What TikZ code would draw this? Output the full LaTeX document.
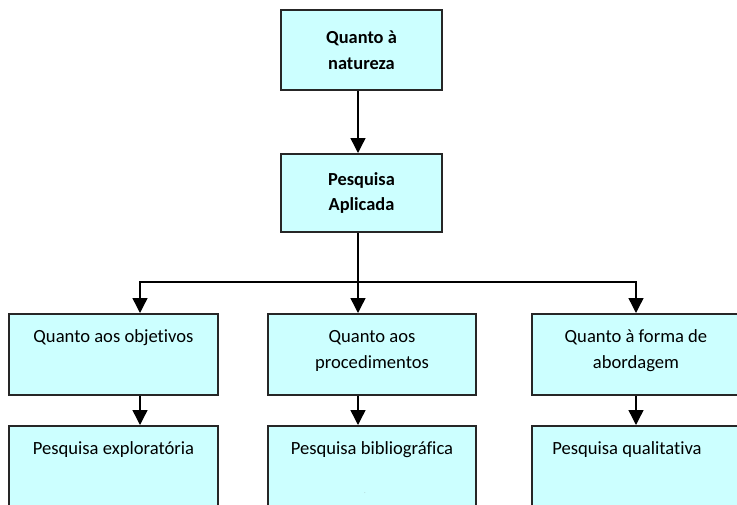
\documentclass[tikz,border=0pt]{standalone}
\usepackage{fontspec}
\setmainfont{Carlito}[Ligatures={NoCommon}]
\usetikzlibrary{arrows.meta}
\definecolor{boxfill}{RGB}{204,255,255}
\newcommand*{\branchy}{282}
\newcommand*{\rowshift}{26.5pt}

\begin{document}
\begin{tikzpicture}[x=1pt, y=-1pt,
    headbox/.style={draw=black!85, line width=2pt, fill=boxfill, inner sep=0pt, align=center, font=\fontsize{18.4}{25.5}\selectfont\bfseries},
    classbox/.style={draw=black!85, line width=2pt, fill=boxfill, inner sep=0pt, minimum width=208pt, minimum height=81pt},
    classtext/.style={anchor=base, align=center, inner sep=0pt, font=\fontsize{18.6}{26}\selectfont},
    link/.style={line width=1.4pt, -{Triangle[length=15pt, width=15pt]}}]
    \clip (0,0) rectangle (737,504);
    \useasboundingbox (0,0) rectangle (737,504);
    % top boxes
    \node[headbox, minimum width=161pt, minimum height=80pt] (natureza) at (361.5,50) {Quanto à\\natureza};
    \node[headbox, minimum width=161pt, minimum height=78pt] (aplicada) at (361.5,193) {Pesquisa\\Aplicada};
    % first row
    \node[classbox, minimum width=209pt] (objetivos) at (113.5,354.5) {};
    \node[classbox] (procedimentos) at (372,354.5) {};
    \node[classbox] (abordagem) at (636,354.5) {};
    \node[classtext] (objetivostext) at ([yshift=-29pt]objetivos.north) {Quanto aos objetivos};
    \node[classtext] (procedimentostext) at ([yshift=-55pt]procedimentos.north) {Quanto aos\\procedimentos};
    \node[classtext] (abordagemtext) at ([yshift=-55pt]abordagem.north) {Quanto à forma de\\abordagem};
    % second row
    \node[classbox, minimum width=209pt] (exploratoria) at (113.5,466.5) {};
    \node[classbox] (bibliografica) at (372,466.5) {};
    \node[classbox] (qualitativa) at (636,466.5) {};
    \node[classtext] (exploratoriatext) at ([yshift=-29pt]exploratoria.north) {Pesquisa exploratória};
    \node[classtext] (bibliograficatext) at ([yshift=-29pt]bibliografica.north) {Pesquisa bibliográfica};
    \node[classtext] (qualitativatext) at ([shift={(-9pt,-29pt)}]qualitativa.north) {Pesquisa qualitativa};
    \node[inner sep=0pt, font=\tiny, text=gray] (speck) at (365,493) {.};
    % connectors
    \coordinate (branch) at (358,\branchy);
    \draw[link] (natureza.south -| branch) -- (aplicada.north -| branch);
    \draw[line width=1.4pt] (aplicada.south -| branch) -- (branch);
    \draw[link] (branch) -| ([xshift=\rowshift]objetivos.north);
    \draw[link] (branch) -- (procedimentos.north -| branch);
    \draw[link] (branch) -| (abordagem.north);
    \draw[link] ([xshift=\rowshift]objetivos.south) -- ([xshift=\rowshift]exploratoria.north);
    \draw[link] (procedimentos.south -| branch) -- (bibliografica.north -| branch);
    \draw[link] (abordagem.south) -- (qualitativa.north);
\end{tikzpicture}
\end{document}
